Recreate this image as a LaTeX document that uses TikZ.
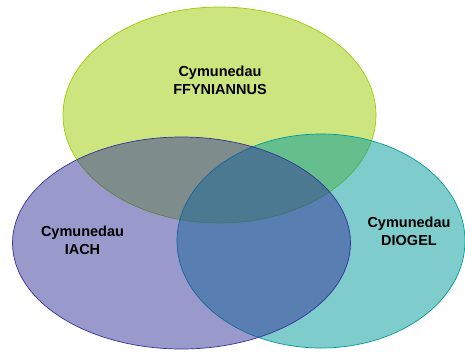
\documentclass[tikz,border=0pt]{standalone}
\usepackage{fontspec}
\setmainfont{Liberation Sans}
\begin{document}
\begin{tikzpicture}[x=1pt,y=-1pt,
  lbl/.style={font=\fontsize{14.5}{18}\selectfont\bfseries, align=center, text=black},
  setfill/.style={fill opacity=0.5, draw opacity=1, line width=0.7pt}]
\useasboundingbox (0,0) rectangle (465,351);
\definecolor{cgreen}{HTML}{99CC00}
\definecolor{cteal}{HTML}{009999}
\definecolor{cpurple}{HTML}{333399}
\path[setfill, fill=cgreen, draw=cgreen] (219.5,115) ellipse [x radius=156.5, y radius=108];
\path[setfill, fill=cteal, draw=cteal] (321,241) ellipse [x radius=144, y radius=107];
\path[setfill, fill=cpurple, draw=cpurple] (181.5,243) ellipse [x radius=169, y radius=106];
\node[lbl] (ffy) at (220,80) {Cymunedau\\FFYNIANNUS};
\node[lbl] (iach) at (82.5,240) {Cymunedau\\IACH};
\node[lbl] (diogel) at (409,231) {Cymunedau\\DIOGEL};
\end{tikzpicture}
\end{document}
